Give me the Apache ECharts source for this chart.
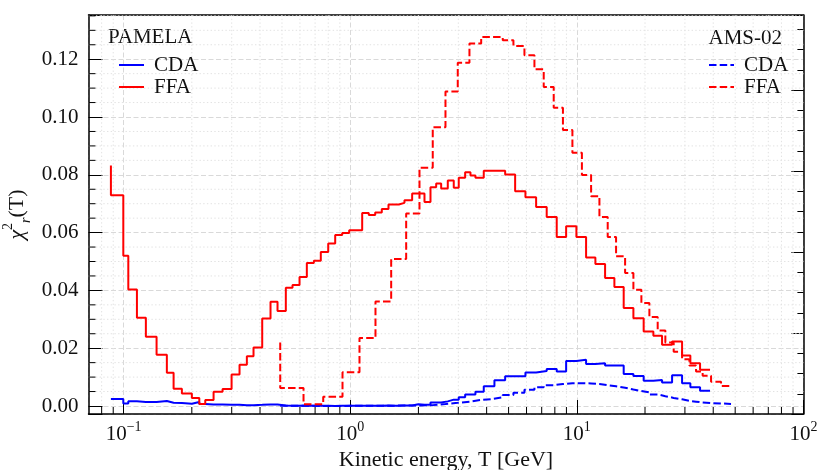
<!DOCTYPE html>
<html><head><meta charset="utf-8">
<script src="https://cdn.jsdelivr.net/npm/echarts@6/dist/echarts.min.js"></script>
<style>html,body{margin:0;padding:0;background:#fff}#c{width:820px;height:470px}</style>
</head><body><div id="c"></div>
<script>
// ---- data ----
// PAMELA: bin edges in T [GeV]; value[0] is the starting level, value[i] is the level of bin (T[i-1], T[i]]
const pamelaT = [0.0879,0.0997,0.1049,0.1145,0.1254,0.1398,0.1552,0.1662,0.1808,0.2001,
 0.2158,0.2293,0.2495,0.2734,0.2996,0.3248,0.3499,0.3744,0.4090,0.4450,
 0.4778,0.5199,0.5565,0.5976,0.6436,0.6911,0.7418,0.7998,0.8586,0.9219,
 0.9899,1.0575,1.1295,1.2078,1.2892,1.3786,1.4757,1.5557,1.6384,1.7358,
 1.8766,1.9990,2.1273,2.2610,2.3955,2.5201,2.6955,2.8642,3.0130,3.2160,
 3.3940,3.5702,3.8851,4.3302,4.8286,5.3443,5.9336,6.6145,7.3654,8.1546,
 8.9730,9.9587,10.990,12.078,13.330,14.651,16.104,17.773,19.728,21.773,
 23.784,26.333,29.147,31.706,34.993,38.726];
const pamelaFFA = [0.0832,0.0729,0.0520,0.0403,0.0305,0.0240,0.0177,0.0115,0.0060,0.0043,
 0.0028,0.0007,0.0021,0.0049,0.0059,0.0109,0.0143,0.0172,0.0202,0.0303,
 0.0361,0.0329,0.0409,0.0419,0.0446,0.0495,0.0503,0.0533,0.0562,0.0592,
 0.0599,0.0608,0.0608,0.0668,0.0661,0.0670,0.0682,0.0697,0.0697,0.0703,
 0.0712,0.0735,0.0735,0.0706,0.0757,0.0770,0.0753,0.0780,0.0755,0.0790,
 0.0809,0.0798,0.0790,0.0814,0.0814,0.0801,0.0743,0.0722,0.0689,0.0654,
 0.0585,0.0622,0.0585,0.0514,0.0491,0.0443,0.0412,0.0339,0.0304,0.0258,
 0.0243,0.0212,0.0223,0.0175,0.0148,0.0125];
const pamelaCDA = [0.0024,0.0024,0.0009,0.0016,0.0014,0.0014,0.0017,0.0011,0.0010,0.0008,
 0.0014,0.0007,0.0005,0.0005,0.0004,0.0004,0.0003,0.0003,0.0004,0.0005,
 0.0005,0.0002,0.0001,0.0001,0.0002,0.0001,0.0001,0.0001,0.0000,0.0001,
 0.0001,0.0001,0.0001,0.0001,0.0001,0.0001,0.0002,0.0001,0.0001,0.0002,
 0.0002,0.0006,0.0004,0.0004,0.0012,0.0012,0.0016,0.0022,0.0022,0.0030,
 0.0040,0.0040,0.0049,0.0068,0.0089,0.0103,0.0103,0.0116,0.0121,0.0128,
 0.0119,0.0156,0.0160,0.0145,0.0148,0.0140,0.0140,0.0111,0.0104,0.0087,
 0.0090,0.0081,0.0106,0.0079,0.0065,0.0053];
// AMS-02
const amsT = [0.4911,0.6223,0.7602,0.9248,1.0990,1.2929,1.5164,1.7660,2.0219,2.3136,
 2.6331,2.9830,3.3593,3.7844,4.2227,4.7120,5.2518,5.8739,6.5013,7.1450,
 7.9088,8.6862,9.5632,10.532,11.564,12.584,13.690,14.904,16.337,17.773,
 19.275,20.908,22.749,24.593,26.762,29.147,31.387,33.589,35.923,39.128,
 43.306,47.925];
const amsFFA = [0.0220,0.0062,0.0006,0.0032,0.0117,0.0235,0.0362,0.0509,0.0666,0.0824,
 0.0965,0.1088,0.1188,0.1254,0.1277,0.1277,0.1266,0.1246,0.1214,0.1165,
 0.1104,0.1032,0.0955,0.0876,0.0799,0.0726,0.0654,0.0585,0.0518,0.0460,
 0.0402,0.0356,0.0308,0.0261,0.0220,0.0188,0.0162,0.0140,0.0119,0.0105,
 0.0084,0.0069];
const amsCDA = [0.0001,0.0001,0.0000,0.0000,0.0001,0.0001,0.0001,0.0002,0.0002,0.0003,
 0.0007,0.0011,0.0015,0.0021,0.0024,0.0030,0.0038,0.0046,0.0056,0.0065,
 0.0072,0.0076,0.0079,0.0079,0.0078,0.0076,0.0072,0.0068,0.0063,0.0057,
 0.0052,0.0047,0.0040,0.0034,0.0028,0.0023,0.0018,0.0015,0.0012,0.0010,
 0.0009,0.0007];
// axis decorations
const minorX = [0.08,0.09,0.2,0.3,0.4,0.5,0.6,0.7,0.8,0.9,2,3,4,5,6,7,8,9,20,30,40,50,60,70,80,90];
const minorY = [0.005,0.01,0.015,0.025,0.03,0.035,0.045,0.05,0.055,0.065,0.07,0.075,0.085,0.09,0.095,0.105,0.11,0.115,0.125,0.13,0.135];
const X_MIN = 0.07, X_MAX = 100, Y_MIN = -0.00277, Y_MAX = 0.1353;
const R_MAX = 4.926;

const FONT = 'Liberation Serif';
const TXT = '#111';
const RED = '#ff0000', BLUE = '#0000ff';
const DASH = [7.5, 3.2];

function pairs(xs, ys) { return xs.map((x, i) => [x, ys[i]]); }

const chart = echarts.init(document.getElementById('c'), null, {renderer: 'canvas'});

function stepSeries(name, xs, ys, color, dashed) {
  return {
    name, type: 'line', step: 'start', data: pairs(xs, ys),
    showSymbol: false, symbol: 'none', silent: true, z: 3,
    lineStyle: {color, width: 2, type: dashed ? DASH : 'solid'},
    itemStyle: {color}
  };
}

const legendCommon = {
  orient: 'vertical', itemWidth: 25, itemHeight: 14, itemGap: 0, selectedMode: false,
  itemStyle: {opacity: 0},
  formatter: n => n.split(' ')[1],
  textStyle: {fontFamily: FONT, fontSize: 21, color: TXT, lineHeight: 22, padding: [0, 0, 0, 5]}
};

const option = {
  animation: false,
  backgroundColor: '#fff',
  grid: {left: 88.5, right: 16.6, top: 15, bottom: 56, containLabel: false, outerBoundsMode: 'none'},
  xAxis: [{
    type: 'log', logBase: 10, min: X_MIN, max: X_MAX, position: 'bottom',
    axisLine: {show: true, onZero: false, lineStyle: {color: '#000', width: 1.5}},
    axisTick: {show: true, inside: true, length: 14, lineStyle: {color: '#000', width: 1}},
    minorTick: {show: false},
    axisLabel: {
      margin: 6, showMinLabel: false,
      formatter: v => {
        const e = Math.log10(v); const r = Math.round(e);
        if (Math.abs(e - r) > 1e-6) return '';
        return '{b|10}{s|' + (r < 0 ? '\u2212' + (-r) : r) + '}';
      },
      rich: {
        b: {fontFamily: FONT, fontSize: 21, color: TXT, lineHeight: 28},
        s: {fontFamily: FONT, fontSize: 14, color: TXT, lineHeight: 12, verticalAlign: 'top'}
      }
    },
    splitLine: {show: true, lineStyle: {color: '#d9d9d9', width: 1, type: [5, 2.5]}},
    name: 'Kinetic energy, T [GeV]', nameLocation: 'middle', nameGap: 35, nameMoveOverlap: false,
    nameTextStyle: {fontFamily: FONT, fontSize: 22, color: TXT}
  }, {
    type: 'log', logBase: 10, min: X_MIN, max: X_MAX, position: 'top',
    axisLine: {show: true, onZero: false, lineStyle: {color: '#000', width: 1.5}},
    axisTick: {show: false}, axisLabel: {show: false}, splitLine: {show: false}
  }],
  yAxis: [{
    type: 'value', min: Y_MIN, max: Y_MAX, splitNumber: 7, position: 'left',
    axisLine: {show: true, onZero: false, lineStyle: {color: '#000', width: 1.5}},
    axisTick: {show: true, inside: true, length: 14, lineStyle: {color: '#000', width: 1}},
    axisLabel: {
      margin: 10, fontFamily: FONT, fontSize: 21, color: TXT,
      formatter: v => {
        const k = v / 0.02;
        if (Math.abs(k - Math.round(k)) > 1e-6) return '';
        return (Math.round(k) * 0.02).toFixed(2);
      }
    },
    splitLine: {show: true, lineStyle: {color: '#d9d9d9', width: 1, type: [5, 2.5]}},
    name: '{i|\u03c7}{p|2}{q|r}{a|(T)}', nameLocation: 'middle', nameGap: 55, nameRotate: 90,
    nameMoveOverlap: false,
    nameTextStyle: {
      fontFamily: FONT, fontSize: 22, color: TXT,
      rich: {
        i: {fontFamily: FONT, fontSize: 22, fontStyle: 'italic', color: TXT, lineHeight: 32},
        a: {fontFamily: FONT, fontSize: 22, color: TXT, lineHeight: 32},
        p: {fontFamily: FONT, fontSize: 14, color: TXT, lineHeight: 14, verticalAlign: 'top'},
        q: {fontFamily: FONT, fontSize: 14, fontStyle: 'italic', color: TXT, lineHeight: 14, verticalAlign: 'bottom'}
      }
    }
  }, {
    type: 'value', min: 0, max: R_MAX, interval: 0.25, position: 'right',
    axisLine: {show: true, onZero: false, lineStyle: {color: '#000', width: 1.5}},
    axisTick: {show: true, inside: true, length: 6, lineStyle: {color: '#000', width: 1}},
    axisLabel: {show: false}, splitLine: {show: false}
  }, {
    type: 'value', min: 0, max: R_MAX, interval: 1, position: 'right',
    axisLine: {show: false, onZero: false},
    axisTick: {show: true, inside: true, length: 12, lineStyle: {color: '#000', width: 1}},
    axisLabel: {show: false}, splitLine: {show: false}
  }],
  legend: [
    Object.assign({data: ['PAMELA CDA', 'PAMELA FFA'], left: 113, top: 49}, legendCommon),
    Object.assign({data: ['AMS-02 CDA', 'AMS-02 FFA'], left: 703, top: 49}, legendCommon)
  ],
  graphic: [
    {type: 'text', left: 108, top: 27, silent: true,
     style: {text: 'PAMELA', font: '21px "' + FONT + '"', fill: TXT}},
    {type: 'text', right: 38, top: 28, silent: true,
     style: {text: 'AMS-02', font: '21px "' + FONT + '"', fill: TXT}}
  ],
  series: [
    {
      type: 'custom', xAxisIndex: 0, yAxisIndex: 0, silent: true, z: 1,
      data: minorX.map(v => [v, 0]),
      renderItem: (params, api) => {
        const v = api.value(0);
        const b = api.coord([v, Y_MIN]), t = api.coord([v, Y_MAX]);
        return {type: 'group', children: [
          {type: 'line', shape: {x1: b[0], y1: t[1], x2: b[0], y2: b[1]},
           style: {stroke: '#e2e2e2', lineWidth: 1, lineDash: [1.4, 2.3]}},
          {type: 'line', shape: {x1: b[0], y1: b[1], x2: b[0], y2: b[1] - 7},
           style: {stroke: '#000', lineWidth: 1}}
        ]};
      }
    },
    {
      type: 'custom', xAxisIndex: 0, yAxisIndex: 0, silent: true, z: 1,
      data: minorY.map(v => [X_MIN, v]),
      renderItem: (params, api) => {
        const v = api.value(1);
        const l = api.coord([X_MIN, v]), r = api.coord([X_MAX, v]);
        return {type: 'group', children: [
          {type: 'line', shape: {x1: l[0], y1: l[1], x2: r[0], y2: l[1]},
           style: {stroke: '#e2e2e2', lineWidth: 1, lineDash: [1.4, 2.3]}},
          {type: 'line', shape: {x1: l[0], y1: l[1], x2: l[0] + 7, y2: l[1]},
           style: {stroke: '#000', lineWidth: 1}}
        ]};
      }
    },
    stepSeries('PAMELA CDA', pamelaT, pamelaCDA, BLUE, false),
    stepSeries('PAMELA FFA', pamelaT, pamelaFFA, RED, false),
    stepSeries('AMS-02 CDA', amsT, amsCDA, BLUE, true),
    stepSeries('AMS-02 FFA', amsT, amsFFA, RED, true)
  ]
};
chart.setOption(option);
</script>
</body></html>
